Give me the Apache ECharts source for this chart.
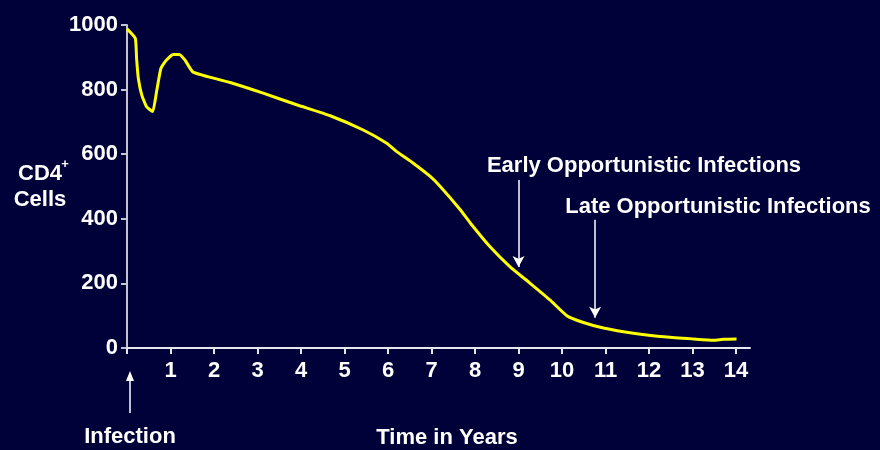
<!DOCTYPE html>
<html>
<head>
<meta charset="utf-8">
<script src="https://cdn.jsdelivr.net/npm/echarts@6/dist/echarts.min.js"></script>
<style>
  html, body { margin: 0; padding: 0; background: #010139; }
  #chart { width: 880px; height: 450px; }
</style>
</head>
<body>
<div id="chart"></div>
<script>
// CD4 count over time
const years = [0, 0.19, 0.22, 0.26, 0.34, 0.45, 0.59, 0.68, 0.78, 0.91, 1.06, 1.20, 1.33, 1.52,
  2.37, 3.13, 3.90, 4.67, 5.43, 5.97, 6.20, 6.58, 6.97, 7.20, 7.66, 7.89, 8.34, 8.80, 9.26,
  9.72, 10.11, 10.49, 10.95, 11.64, 12.41, 13.02, 13.48, 13.71, 14.01];
const cd4 = [988, 959, 897, 835, 783, 747, 732, 794, 866, 892, 909, 909, 892, 854,
  822, 789, 753, 719, 675, 634, 608, 572, 531, 500, 428, 387, 314, 252, 201,
  149, 100, 79, 62, 46, 34, 28, 24, 27, 28];
const xTicks = [0, 1, 2, 3, 4, 5, 6, 7, 8, 9, 10, 11, 12, 13, 14];
const xLabels = [1, 2, 3, 4, 5, 6, 7, 8, 9, 10, 11, 12, 13, 14];
// arrows: [year, top value, tip value]
const earlyArrow = [9, 520, 251];
const lateArrow = [10.76, 397, 94];

const font = "'Liberation Sans', Arial, sans-serif";
const white = '#ffffff';

function label(text, x, y, size) {
    return {
        type: 'text', x: x, y: y,
        style: { text: text, fill: white, font: 'bold ' + (size || 22) + 'px ' + font, align: 'center', verticalAlign: 'middle' }
    };
}

let chart = echarts.init(document.getElementById('chart'));
let option = {
    backgroundColor: '#010139',
    animation: false,
    grid: { left: 127, right: 130, top: 25, bottom: 102 },
    xAxis: {
        type: 'value',
        min: 0,
        max: 14.32,
        interval: 1,
        splitLine: { show: false },
        axisLine: { onZero: false, lineStyle: { color: '#e6e6ee', width: 2 } },
        axisTick: { customValues: xTicks, length: 6, lineStyle: { color: '#e6e6ee', width: 2 } },
        axisLabel: {
            customValues: xLabels,
            color: white, fontFamily: font, fontWeight: 'bold', fontSize: 22, margin: 12
        }
    },
    yAxis: {
        type: 'value',
        min: 0,
        max: 1000,
        interval: 200,
        splitLine: { show: false },
        axisLine: { show: true, onZero: false, lineStyle: { color: '#c4c4d0', width: 2 } },
        axisTick: { show: true, length: 6, lineStyle: { color: '#c4c4d0', width: 2 } },
        axisLabel: {
            color: white, fontFamily: font, fontWeight: 'bold', fontSize: 22, margin: 9,
            formatter: v => String(v)
        }
    },
    series: [{
        type: 'line',
        data: years.map((x, i) => [x, cd4[i]]),
        showSymbol: false,
        smooth: 0.15,
        lineStyle: { color: '#ffff00', width: 3 },
        markLine: {
            silent: true,
            symbol: ['none', 'arrow'],
            symbolSize: [9, 11],
            label: { show: false },
            lineStyle: { color: white, width: 1.5, type: 'solid' },
            data: [
                [{ coord: [earlyArrow[0], earlyArrow[1]] }, { coord: [earlyArrow[0], earlyArrow[2]] }],
                [{ coord: [lateArrow[0], lateArrow[1]] }, { coord: [lateArrow[0], lateArrow[2]] }]
            ]
        }
    }],
    graphic: [
        label('Early Opportunistic Infections', 644, 166),
        label('Late Opportunistic Infections', 718, 207),
        label('Time in Years', 447, 438),
        label('Infection', 130, 437),
        label('CD4', 40, 174),
        label('+', 65, 164, 13),
        label('Cells', 40, 200),
        { type: 'line', shape: { x1: 130, y1: 413, x2: 130, y2: 380 }, style: { stroke: white, lineWidth: 1.5 } },
        { type: 'polygon', shape: { points: [[130, 371], [126, 381], [134, 381]] }, style: { fill: white } }
    ]
};
chart.setOption(option);
</script>
</body>
</html>
